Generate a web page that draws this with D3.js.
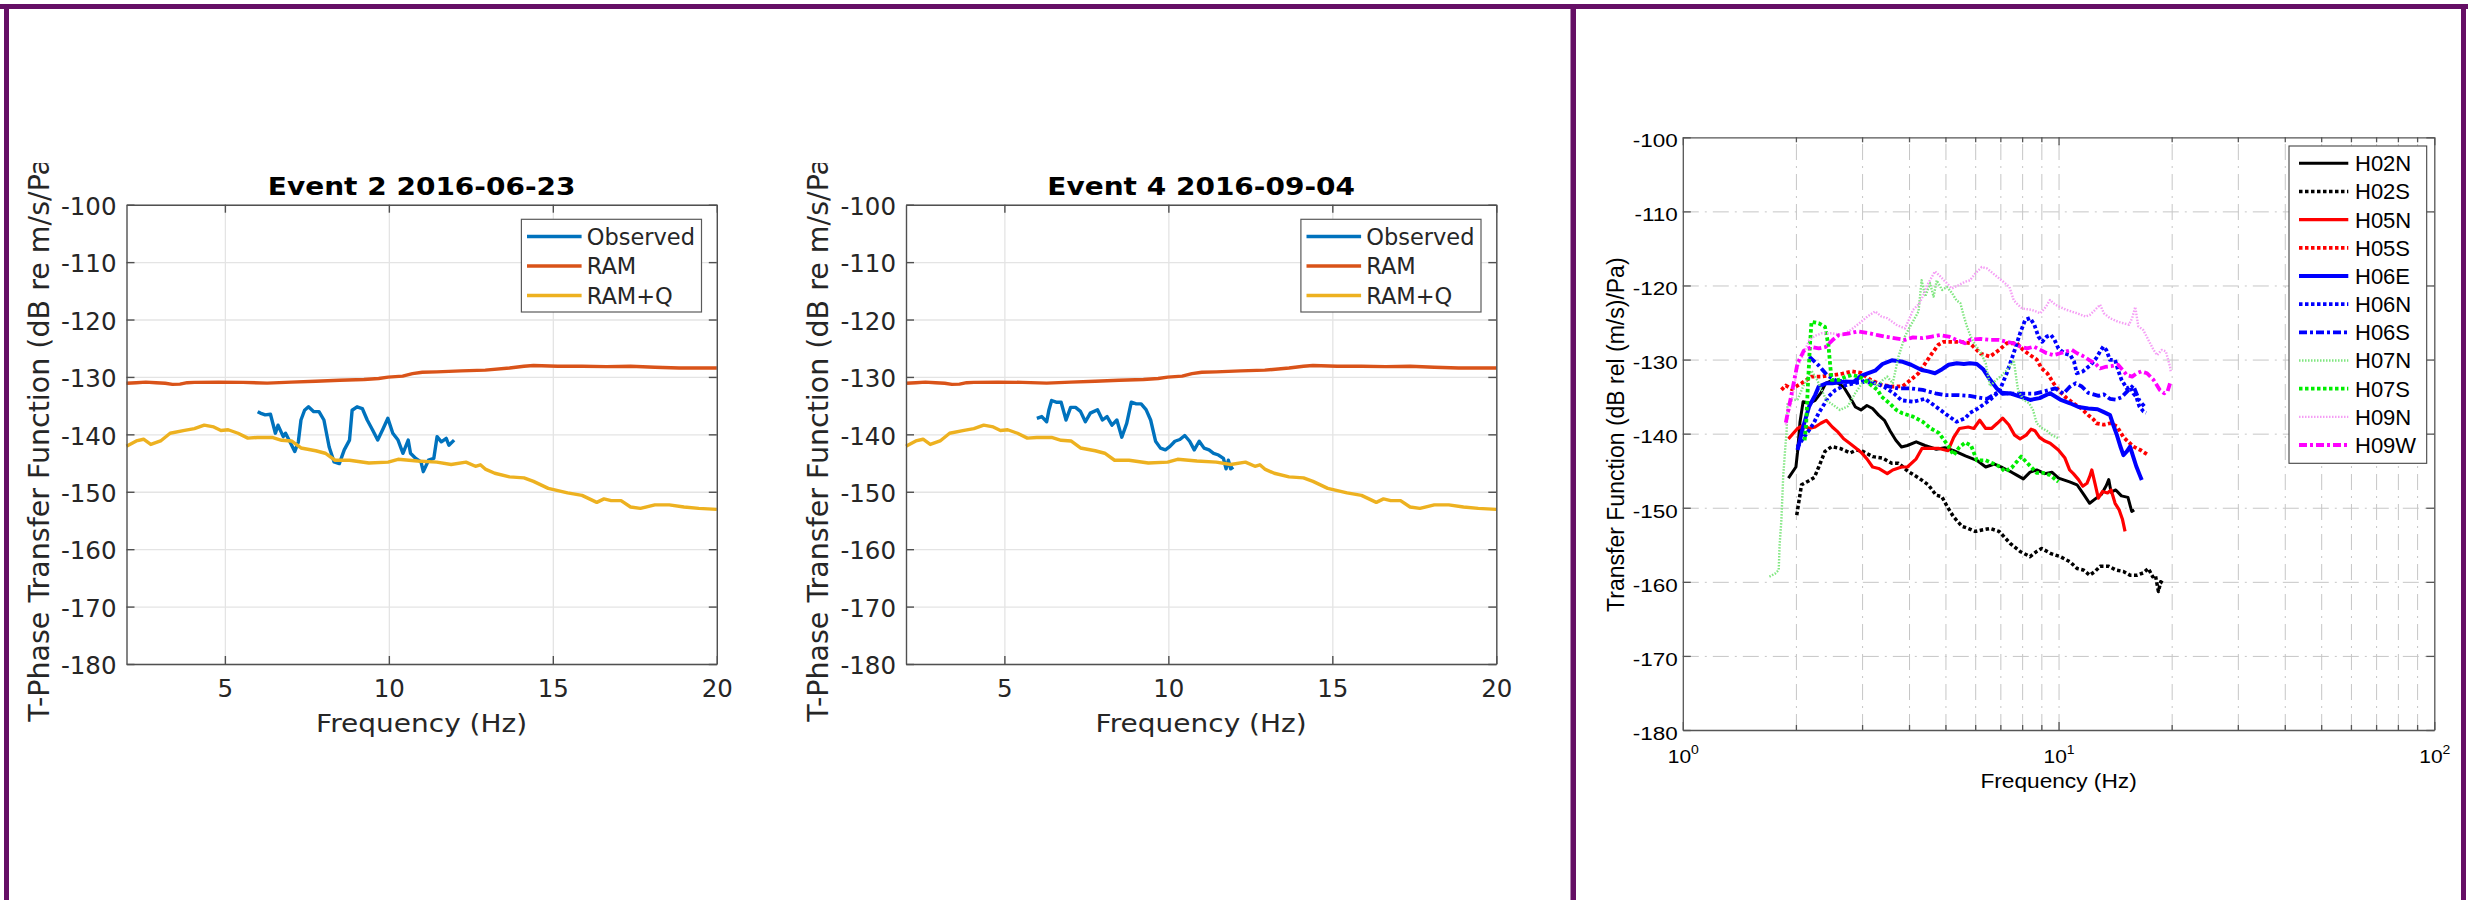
<!DOCTYPE html>
<html>
<head>
<meta charset="utf-8">
<script src="https://cdn.jsdelivr.net/npm/d3@7"></script>
<style>
  html, body { margin: 0; padding: 0; background: #ffffff; }
  svg { display: block; }
</style>
</head>
<body>
<svg id="fig" width="2468" height="900"></svg>
<script>
// ---------------- Event panels (linear frequency axis) ----------------
const eventTitles = ["Event 2 2016-06-23", "Event 4 2016-09-04"];
const eventSeries = ["Observed", "RAM", "RAM+Q"];
const freqTicks = [5, 10, 15, 20];
const dbTicks = [-100, -110, -120, -130, -140, -150, -160, -170, -180];

// RAM model (same for both events)
const ramFreq = [2.0, 2.3, 2.59, 2.9, 3.18, 3.4, 3.63, 3.85, 4.07, 4.81, 5.55, 6.29, 7.03, 7.77, 8.50,
  9.24, 9.69, 9.98, 10.42, 10.72, 11.02, 11.46, 12.20, 12.94, 13.68, 14.12, 14.41, 15.15, 15.89, 16.63,
  17.37, 18.11, 18.85, 19.59, 20.0];
const ramDb = [-131.1, -131.0, -130.9, -131.0, -131.1, -131.3, -131.25, -131.0, -130.95, -130.9,
  -130.95, -131.07, -130.9, -130.76, -130.57, -130.45, -130.27, -130.03, -129.85, -129.43,
  -129.18, -129.12, -128.94, -128.82, -128.45, -128.13, -128.01, -128.13, -128.13, -128.2,
  -128.13, -128.32, -128.45, -128.45, -128.45];

// RAM + attenuation (Q) model
const ramqFreq = [2.0, 2.30, 2.52, 2.74, 3.04, 3.33, 3.77, 4.07, 4.37, 4.66, 4.88, 5.10, 5.40, 5.70, 5.99,
  6.44, 6.73, 7.03, 7.32, 7.77, 8.06, 8.36, 8.80, 9.39, 9.98, 10.28, 10.87, 11.46, 11.90, 12.35,
  12.64, 12.79, 12.94, 13.23, 13.68, 14.12, 14.41, 14.86, 15.45, 15.89, 16.34, 16.56, 16.78, 17.08, 17.37,
  17.67, 18.11, 18.55, 19.00, 19.45, 20.0];
const ramqDb = [-142.07, -141.15, -140.85, -141.76, -141.15, -139.81, -139.32, -139.01, -138.40, -138.71,
  -139.32, -139.2, -139.81, -140.66, -140.54, -140.54, -141.03, -141.15, -142.37, -142.86,
  -143.29, -144.51, -144.51, -145.0, -144.83, -144.34, -144.64, -144.83, -145.25, -144.83,
  -145.56, -145.3, -146.05, -146.78, -147.4, -147.58, -148.19, -149.41, -150.2, -150.63,
  -151.85, -151.24, -151.55, -151.55, -152.65, -152.9, -152.29, -152.29, -152.65, -152.9, -153.07];

// Observed, event 2
const obsE2Freq = [6.00, 6.08, 6.23, 6.39, 6.54, 6.62, 6.78, 6.85, 7.01, 7.13, 7.24, 7.32, 7.43, 7.55, 7.71,
  7.87, 8.02, 8.18, 8.33, 8.49, 8.64, 8.80, 8.88, 9.03, 9.19, 9.34, 9.50, 9.66, 9.81, 9.97,
  10.12, 10.28, 10.43, 10.59, 10.66, 10.82, 10.98, 11.05, 11.21, 11.37, 11.47, 11.60, 11.75, 11.83, 11.99];
const obsE2Db = [-136.05, -136.3, -136.6, -136.5, -139.8, -138.4, -140.4, -139.8, -141.6, -143.0,
  -141.3, -137.5, -135.8, -135.2, -136.05, -136.05, -137.5, -142.2, -144.8, -145.1,
  -142.7, -141.0, -135.8, -135.2, -135.5, -137.5, -139.2, -141.0, -139.2, -137.2,
  -139.8, -141.0, -143.3, -141.0, -143.3, -144.2, -144.8, -146.5, -144.5, -144.2,
  -140.4, -141.3, -140.7, -141.9, -141.0];

// Observed, event 4
const obsE4Freq = [5.99, 6.14, 6.29, 6.36, 6.44, 6.58, 6.73, 6.88, 7.02, 7.17, 7.32, 7.47, 7.62, 7.84, 7.99,
  8.13, 8.28, 8.43, 8.58, 8.73, 8.87, 9.02, 9.17, 9.32, 9.46, 9.61, 9.76, 9.91, 10.05, 10.20,
  10.35, 10.50, 10.65, 10.79, 10.94, 11.09, 11.24, 11.38, 11.53, 11.68, 11.76, 11.83, 11.90, 11.98];
const obsE4Db = [-137.2, -136.9, -137.8, -135.7, -134.1, -134.4, -134.4, -137.5, -135.3, -135.3,
  -136.0, -137.8, -136.3, -135.7, -137.5, -136.9, -138.4, -137.5, -140.5, -138.1,
  -134.4, -134.7, -134.7, -135.7, -137.5, -141.2, -142.4, -142.7, -142.1, -141.2,
  -140.9, -140.2, -141.2, -142.7, -141.2, -142.4, -142.7, -143.3, -143.6, -144.2,
  -146.0, -144.5, -146.0, -145.7];

// ---------------- Station transfer functions (log frequency axis) ----------------
const stationNames = ["H02N", "H02S", "H05N", "H05S", "H06E", "H06N", "H06S", "H07N", "H07S", "H09N", "H09W"];
const logExponents = [0, 1, 2];

const h02nFreq = [1.91, 2.0, 2.02, 2.05, 2.09, 2.17, 2.25, 2.33, 2.40, 2.50, 2.59, 2.68, 2.78, 2.88, 2.98,
  3.09, 3.20, 3.32, 3.44, 3.56, 3.69, 3.82, 3.96, 4.18, 4.41, 4.73, 4.98, 5.26, 5.65, 6.06,
  6.4, 6.75, 7.1, 7.5, 7.74, 8.06, 8.4, 8.75, 9.2, 9.6, 10.0, 10.7, 11.2, 11.7, 12.1,
  12.6, 13.0, 13.4, 13.6, 13.8, 14.2, 14.7, 15.3, 15.66, 15.9];
const h02nDb = [-146.0, -144.5, -142.5, -138.5, -135.7, -135.9, -135.5, -134.5, -133.2, -132.8,
  -133.2, -133.7, -135.0, -136.4, -136.8, -136.2, -136.6, -137.5, -138.2, -139.6,
  -140.9, -141.8, -141.6, -141.1, -141.6, -142.1, -141.9, -142.3, -143.0, -143.6,
  -144.5, -144.1, -144.6, -145.2, -145.6, -146.1, -145.2, -144.9, -145.4, -145.2,
  -146.0, -146.5, -146.9, -148.3, -149.4, -148.7, -148.2, -147.0, -146.2, -147.9,
  -147.6, -148.4, -148.6, -150.5, -150.3];

const h02sFreq = [2.01, 2.07, 2.16, 2.24, 2.30, 2.39, 2.49, 2.62, 2.79, 2.90, 3.02, 3.20, 3.40, 3.60, 3.75,
  3.98, 4.25, 4.50, 4.72, 4.89, 5.05, 5.25, 5.53, 5.75, 6.0, 6.25, 6.57, 6.95, 7.43, 7.9,
  8.40, 8.75, 9.02, 9.55, 10.1, 10.73, 11.2, 11.64, 12.1, 12.5, 12.9, 13.6, 14.2, 14.88, 15.5,
  16.2, 16.8, 17.34, 17.8, 18.1, 18.44, 18.7, 19.0];
const h02sDb = [-151.0, -146.9, -146.4, -145.9, -144.5, -142.4, -141.75, -142.0, -142.6, -142.2,
  -142.4, -143.1, -143.3, -144.0, -144.0, -145.1, -146.0, -146.9, -148.3, -148.5,
  -149.8, -151.2, -152.5, -152.8, -153.2, -153.0, -152.8, -153.2, -154.8, -155.9,
  -156.6, -155.9, -155.5, -156.2, -156.6, -157.3, -158.2, -158.4, -159.1, -158.6,
  -157.9, -157.9, -158.4, -158.6, -159.1, -159.1, -158.8, -158.2, -159.3, -159.1,
  -161.3, -160.0, -160.2];

const h05nFreq = [1.91, 2.02, 2.09, 2.17, 2.25, 2.33, 2.41, 2.50, 2.59, 2.68, 2.78, 2.88, 2.98, 3.09, 3.20,
  3.32, 3.50, 3.62, 3.82, 3.96, 4.18, 4.33, 4.57, 4.81, 5.08, 5.26, 5.45, 5.75, 5.95, 6.17,
  6.40, 6.63, 6.87, 7.1, 7.37, 7.64, 7.9, 8.2, 8.45, 8.65, 8.9, 9.2, 9.5, 9.99, 10.4,
  10.7, 10.95, 11.3, 11.6, 11.9, 12.1, 12.26, 12.5, 12.76, 13.1, 13.5, 13.8, 14.14, 14.5, 14.8, 15.03];
const h05nDb = [-140.7, -139.3, -138.9, -139.3, -139.1, -138.6, -138.2, -139.1, -139.8, -140.7,
  -141.3, -141.9, -142.5, -143.4, -144.5, -144.7, -145.4, -144.9, -144.5, -144.5,
  -143.4, -142.0, -142.0, -142.0, -142.3, -140.5, -139.3, -139.1, -139.3, -138.2,
  -139.3, -139.3, -138.6, -137.9, -138.8, -140.2, -140.7, -140.2, -139.4, -139.6,
  -140.5, -141.0, -141.3, -142.2, -143.3, -144.9, -145.4, -146.2, -147.1, -146.7,
  -145.8, -144.9, -146.7, -148.7, -147.8, -148.0, -147.6, -149.4, -150.3, -151.6, -153.2];

const h05sFreq = [1.83, 1.88, 1.95, 2.07, 2.2, 2.34, 2.5, 2.66, 2.82, 2.98, 3.15, 3.38, 3.60, 3.85, 4.05,
  4.24, 4.42, 4.6, 4.79, 4.95, 5.2, 5.5, 5.81, 6.2, 6.57, 6.95, 7.28, 7.74, 8.05, 8.4,
  8.75, 9.02, 9.35, 9.7, 9.99, 10.5, 10.95, 11.5, 12.0, 12.4, 12.6, 13.2, 13.7, 14.29, 14.9,
  15.82, 16.5, 17.34];
const h05sDb = [-134.1, -133.5, -134.0, -133.2, -132.3, -132.3, -132.1, -131.9, -131.6, -131.8,
  -132.7, -133.4, -133.65, -133.6, -132.7, -131.85, -130.5, -129.2, -128.0, -127.6,
  -127.6, -127.6, -127.8, -129.2, -129.6, -128.7, -127.8, -127.8, -128.7, -129.4,
  -130.0, -131.2, -131.9, -133.2, -134.1, -135.2, -135.9, -136.6, -137.5, -138.1,
  -138.6, -138.8, -138.6, -139.0, -140.5, -141.75, -142.2, -142.9];

const h06eFreq = [2.02, 2.09, 2.17, 2.25, 2.30, 2.41, 2.5, 2.68, 2.85, 2.98, 3.09, 3.25, 3.40, 3.60, 3.85,
  4.05, 4.32, 4.50, 4.69, 4.9, 5.1, 5.36, 5.6, 5.81, 6.06, 6.3, 6.55, 6.85, 7.1, 7.43,
  7.9, 8.4, 8.9, 9.49, 10.1, 10.73, 11.3, 12.0, 12.7, 13.2, 13.71, 14.0, 14.3, 14.6, 14.88,
  15.2, 15.50, 15.8, 16.1, 16.45, 16.65];
const h06eDb = [-142.2, -139.1, -136.3, -134.8, -133.65, -133.2, -133.2, -133.0, -133.0, -132.2,
  -131.9, -131.5, -130.6, -130.1, -130.3, -130.7, -131.4, -131.6, -131.85, -131.3,
  -130.7, -130.5, -130.6, -130.5, -130.6, -131.3, -132.6, -133.9, -134.6, -134.55,
  -135.0, -135.45, -135.2, -134.55, -135.4, -135.9, -136.4, -136.6, -136.7, -137.1,
  -137.5, -138.9, -140.2, -141.7, -142.9, -142.4, -141.75, -143.1, -144.4, -145.6, -146.25];

const h06nFreq = [2.02, 2.10, 2.17, 2.23, 2.30, 2.38, 2.44, 2.55, 2.70, 2.87, 3.09, 3.30, 3.44, 3.65, 3.82,
  4.11, 4.41, 4.73, 5.15, 5.35, 5.65, 5.81, 6.06, 6.57, 6.95, 7.28, 7.6, 7.90, 8.15, 8.40,
  8.62, 8.84, 9.05, 9.30, 9.55, 9.75, 9.99, 10.4, 10.75, 11.0, 11.18, 11.6, 12.2, 12.6, 12.9,
  13.16, 13.4, 13.7, 14.14, 14.4, 14.7, 15.19, 15.5, 15.8, 16.1, 16.4, 16.82, 17.1];
const h06nDb = [-141.8, -140.5, -139.5, -138.6, -137.2, -136.0, -135.0, -134.1, -133.5, -133.2,
  -132.8, -133.3, -133.7, -134.6, -135.5, -135.7, -135.3, -136.4, -137.8, -138.4,
  -137.9, -137.2, -136.7, -135.45, -134.3, -131.85, -129.1, -126.45, -124.65, -124.4,
  -125.3, -126.9, -127.6, -126.9, -126.7, -127.3, -128.5, -129.2, -129.4, -130.3,
  -131.85, -131.6, -130.7, -129.8, -128.9, -128.25, -128.7, -130.05, -130.05, -131.4,
  -132.7, -133.9, -133.65, -134.55, -135.0, -136.3, -137.0, -137.2];

const h06sFreq = [2.17, 2.30, 2.42, 2.55, 2.75, 3.0, 3.25, 3.50, 3.75, 4.05, 4.35, 4.70, 5.0, 5.4, 5.8,
  6.1, 6.45, 6.9, 7.5, 8.06, 8.65, 9.3, 9.8, 10.3, 10.7, 11.1, 11.5, 12.0, 12.78, 13.2,
  13.7, 14.2, 14.7, 15.3, 15.8, 16.4, 16.9];
const h06sDb = [-129.6, -130.8, -132.1, -132.8, -133.0, -133.0, -133.2, -133.6, -133.9, -133.9,
  -134.1, -134.55, -134.8, -134.8, -134.9, -135.1, -135.3, -134.4, -134.6, -134.6,
  -134.6, -134.2, -133.9, -134.6, -133.7, -133.2, -133.6, -134.5, -134.9, -134.7,
  -135.3, -135.4, -135.1, -134.2, -133.5, -135.5, -136.3];

const h07nFreq = [1.70, 1.76, 1.80, 1.81, 1.83, 1.85, 1.87, 1.89, 1.90, 1.95, 2.02, 2.11, 2.20, 2.28, 2.41,
  2.54, 2.62, 2.75, 2.88, 3.0, 3.18, 3.3, 3.4, 3.5, 3.62, 3.75, 3.9, 4.0, 4.24, 4.32,
  4.42, 4.55, 4.65, 4.74, 4.9, 5.05, 5.2, 5.35, 5.48, 5.6, 5.7, 5.85, 6.0, 6.2, 6.4,
  6.57, 6.8, 7.0, 7.3, 7.6, 7.8, 8.05, 8.35, 8.55, 8.75, 9.0, 9.3, 9.6, 9.97];
const h07nDb = [-159.3, -158.9, -158.4, -155.0, -151.6, -145.8, -142.5, -139.5, -136.0, -135.5,
  -135.4, -133.2, -131.5, -132.8, -135.5, -136.3, -136.8, -136.3, -134.5, -133.2,
  -132.75, -133.6, -132.8, -132.3, -133.2, -129.6, -126.9, -125.8, -123.5, -119.3,
  -121.5, -119.7, -121.5, -119.3, -120.6, -120.2, -121.0, -122.0, -122.4, -124.2,
  -125.5, -127.0, -128.0, -129.0, -130.5, -133.6, -132.8, -132.3, -131.4, -130.1,
  -134.1, -135.4, -135.9, -136.8, -138.6, -139.2, -139.6, -140.2, -140.6];

const h07sFreq = [2.11, 2.13, 2.15, 2.18, 2.20, 2.30, 2.39, 2.44, 2.47, 2.49, 2.60, 2.72, 2.82, 2.95, 3.05,
  3.20, 3.30, 3.38, 3.55, 3.70, 3.84, 4.1, 4.35, 4.57, 4.8, 5.08, 5.26, 5.45, 5.65, 5.85,
  6.06, 6.4, 6.75, 7.0, 7.2, 7.5, 7.74, 7.95, 8.2, 8.45, 8.75, 9.1, 9.5, 9.99];
const h07sDb = [-140.9, -138.6, -134.0, -128.0, -124.9, -125.1, -125.6, -128.0, -131.0, -132.75,
  -132.75, -132.3, -132.1, -132.3, -132.75, -133.6, -134.1, -135.0, -135.9, -136.8,
  -137.25, -137.7, -138.4, -139.3, -139.9, -141.6, -142.9, -141.8, -141.2, -141.6,
  -143.6, -143.6, -144.1, -144.5, -145.1, -144.6, -143.8, -143.1, -143.8, -144.5,
  -145.3, -145.3, -145.6, -146.5];

const h09nFreq = [1.88, 1.95, 2.02, 2.09, 2.17, 2.25, 2.34, 2.49, 2.65, 2.8, 2.95, 3.1, 3.25, 3.38, 3.5,
  3.7, 3.9, 4.0, 4.1, 4.25, 4.35, 4.5, 4.69, 4.85, 5.0, 5.2, 5.4, 5.64, 5.81, 6.0,
  6.25, 6.45, 6.7, 7.13, 7.4, 7.6, 7.8, 8.0, 8.5, 8.95, 9.25, 9.49, 9.8, 10.5, 11.2,
  11.8, 12.1, 12.4, 12.9, 13.2, 13.7, 14.4, 15.4, 15.7, 16.0, 16.3, 16.8, 17.34, 17.9, 18.3,
  18.8, 19.3, 19.81, 19.9];
const h09nDb = [-138.8, -135.5, -131.0, -129.4, -127.35, -126.8, -126.45, -126.45, -126.7, -126.0,
  -125.1, -124.2, -123.5, -124.2, -124.4, -125.3, -125.8, -124.6, -123.3, -122.5,
  -121.5, -119.7, -118.1, -118.8, -119.5, -120.4, -120.0, -119.5, -119.3, -118.4,
  -117.5, -117.7, -118.4, -119.5, -120.2, -122.0, -122.6, -123.1, -123.3, -123.75,
  -122.9, -121.95, -122.6, -123.3, -123.75, -124.2, -124.0, -123.5, -122.6, -123.75,
  -124.4, -124.9, -125.3, -124.4, -122.9, -125.5, -126.0, -127.35, -128.7, -129.4,
  -128.7, -128.9, -131.0, -131.7];

const h09wFreq = [1.88, 1.95, 2.02, 2.10, 2.2, 2.3, 2.4, 2.5, 2.6, 2.75, 2.93, 3.1, 3.3, 3.45, 3.65,
  3.9, 4.1, 4.35, 4.6, 4.85, 5.1, 5.35, 5.64, 5.81, 6.2, 6.57, 6.95, 7.28, 7.6, 7.9,
  8.25, 8.6, 8.95, 9.3, 9.7, 10.1, 10.5, 10.85, 11.2, 11.7, 12.1, 12.5, 12.9, 13.3, 13.8,
  14.4, 14.8, 15.2, 15.7, 16.15, 16.6, 17.2, 17.9, 18.6, 19.1, 19.5, 19.8, 19.95];
const h09wDb = [-138.5, -134.5, -130.5, -128.8, -128.3, -128.5, -128.3, -127.4, -126.7, -126.5,
  -126.2, -126.4, -126.7, -126.9, -127.1, -127.35, -127.0, -127.1, -126.9, -126.7,
  -126.9, -127.35, -127.8, -127.35, -127.2, -127.35, -127.35, -127.6, -127.8, -128.25,
  -128.5, -128.25, -128.7, -129.15, -129.4, -129.15, -128.9, -128.7, -129.15, -129.6,
  -130.1, -130.5, -131.2, -131.0, -130.9, -130.7, -131.4, -132.1, -132.3, -131.85,
  -131.6, -131.85, -132.75, -134.1, -134.55, -134.3, -133.2, -133.0];

// ---------------- drawing ----------------
const W = 2468, H = 900;
const svg = d3.select("#fig");
const FONT_EVT = "'DejaVu Sans', sans-serif";
const FONT_STN = "'Liberation Sans', Arial, Helvetica, sans-serif";

// Vertically compress a text element about its own anchor point.
function vsquash(sel, k) {
  sel.each(function () {
    const t = d3.select(this);
    const x = +t.attr("x") || 0, y = +t.attr("y") || 0;
    t.attr("transform", `translate(${x},${y}) scale(1,${k}) translate(${-x},${-y})`);
  });
}

svg.append("rect").attr("width", W).attr("height", H).attr("fill", "#ffffff");

// ---- one event panel ----
function drawEvent(left, titleText, obsF, obsV) {
  const top = 204.7, bottom = 664, right = left + 590.3;
  const x = d3.scaleLinear().domain([2, 20]).range([left, right]);
  const y = d3.scaleLinear().domain([-180, -100]).range([bottom, top]);
  const axisColor = "#505050", textColor = "#262626";
  const g = svg.append("g");

  // grid
  g.append("g").attr("transform", `translate(0,${bottom})`)
    .call(d3.axisBottom(x).tickValues(freqTicks).tickSize(-(bottom - top)).tickFormat(""))
    .call(a => a.select(".domain").remove())
    .call(a => a.selectAll("line").attr("stroke", "#e4e4e4").attr("stroke-width", 1.3));
  g.append("g").attr("transform", `translate(${left},0)`)
    .call(d3.axisLeft(y).tickValues(dbTicks).tickSize(-(right - left)).tickFormat(""))
    .call(a => a.select(".domain").remove())
    .call(a => a.selectAll("line").attr("stroke", "#e4e4e4").attr("stroke-width", 1.3));

  // curves
  const line = d3.line().x(d => x(d[0])).y(d => y(d[1]));
  const curves = [
    { pts: d3.zip(obsF, obsV), color: "#0072BD" },
    { pts: d3.zip(ramFreq, ramDb), color: "#D95319" },
    { pts: d3.zip(ramqFreq, ramqDb), color: "#EDB120" }
  ];
  g.append("g").selectAll("path").data(curves).join("path")
    .attr("d", c => line(c.pts)).attr("fill", "none")
    .attr("stroke", c => c.color).attr("stroke-width", 3.4)
    .attr("stroke-linejoin", "round");

  // box with inward ticks
  const styleAxis = a => {
    a.selectAll("line, path").attr("stroke", axisColor).attr("stroke-width", 1.4);
    a.selectAll("text").attr("fill", textColor).attr("font-family", FONT_EVT).attr("font-size", 24.5);
  };
  g.append("g").attr("transform", `translate(0,${bottom})`)
    .call(d3.axisBottom(x).tickValues(freqTicks).tickSize(-8).tickSizeOuter(0).tickPadding(16).tickFormat(d => String(d)))
    .call(styleAxis);
  g.append("g").attr("transform", `translate(0,${top})`)
    .call(d3.axisTop(x).tickValues(freqTicks).tickSize(-8).tickSizeOuter(0).tickFormat(""))
    .call(styleAxis);
  g.append("g").attr("transform", `translate(${left},0)`)
    .call(d3.axisLeft(y).tickValues(dbTicks).tickSize(-8).tickSizeOuter(0).tickPadding(10).tickFormat(d => String(d)))
    .call(styleAxis)
    .call(a => a.selectAll("text").attr("dy", "0.4em"));
  g.append("g").attr("transform", `translate(${right},0)`)
    .call(d3.axisRight(y).tickValues(dbTicks).tickSize(-8).tickSizeOuter(0).tickFormat(""))
    .call(styleAxis);

  // title
  g.append("text").attr("x", (left + right) / 2).attr("y", 195)
    .attr("text-anchor", "middle").attr("font-family", FONT_EVT).attr("font-weight", "bold")
    .attr("font-size", 28).attr("fill", "#000").text(titleText)
    .call(vsquash, 0.9);

  // x label
  g.append("text").attr("x", (left + right) / 2).attr("y", 731.7)
    .attr("text-anchor", "middle").attr("font-family", FONT_EVT)
    .attr("font-size", 28).attr("fill", textColor).text("Frequency (Hz)")
    .call(vsquash, 0.9);

  // y label (top end cut off by the panel region)
  const clipId = "ylab-clip-" + Math.round(left);
  svg.append("clipPath").attr("id", clipId).append("rect")
    .attr("x", left - 126).attr("y", 163).attr("width", 120).attr("height", 700);
  g.append("g").attr("clip-path", `url(#${clipId})`)
    .append("text")
    .attr("transform", `translate(${left - 78},${(top + bottom) / 2}) rotate(-90)`)
    .attr("text-anchor", "middle").attr("font-family", FONT_EVT)
    .attr("font-size", 28.5).attr("fill", textColor)
    .text("T-Phase Transfer Function (dB re m/s/Pa)");

  // legend
  const lx = right - 195.4, ly = 219.3;
  g.append("rect").attr("x", lx).attr("y", ly).attr("width", 180.1).attr("height", 92.7)
    .attr("fill", "#fff").attr("stroke", "#5a5a5a").attr("stroke-width", 1.2);
  const rows = g.append("g").selectAll("g").data(eventSeries).join("g")
    .attr("transform", (d, i) => `translate(${lx},${ly + 17.2 + i * 29.5})`);
  rows.append("line").attr("x1", 5.6).attr("x2", 60.2).attr("y1", 0).attr("y2", 0)
    .attr("stroke", (d, i) => curves[i].color).attr("stroke-width", 3.6);
  rows.append("text").attr("x", 65.3).attr("y", 8.2)
    .attr("font-family", FONT_EVT).attr("font-size", 22.5).attr("fill", textColor)
    .text(d => d);
}

drawEvent(126.5, eventTitles[0], obsE2Freq, obsE2Db);
drawEvent(906, eventTitles[1], obsE4Freq, obsE4Db);

// ---- station panel ----
(function drawStations() {
  const left = 1682.8, right = 2434.3, top = 137.3, bottom = 730;
  const x = d3.scaleLog().domain([1, 100]).range([left, right]);
  const y = d3.scaleLinear().domain([-180, -100]).range([bottom, top]);
  const g = svg.append("g");
  const isMajor = d => Math.abs(Math.log10(d) - Math.round(Math.log10(d))) < 1e-9;
  const allTicks = x.ticks();
  const gridX = allTicks.filter(d => d > 1 && d < 100);
  const gridY = dbTicks.filter(d => d > -180 && d < -100);

  // grid
  const gridStyle = a => a.selectAll("line").attr("stroke", "#c6c6c6").attr("stroke-width", 1)
    .attr("stroke-dasharray", "16,6,2,6");
  g.append("g").attr("transform", `translate(0,${bottom})`)
    .call(d3.axisBottom(x).tickValues(gridX).tickSize(-(bottom - top)).tickFormat(""))
    .call(a => a.select(".domain").remove())
    .call(gridStyle);
  g.append("g").attr("transform", `translate(${left},0)`)
    .call(d3.axisLeft(y).tickValues(gridY).tickSize(-(right - left)).tickFormat(""))
    .call(a => a.select(".domain").remove())
    .call(gridStyle);

  // series styles
  const styles = {
    H02N: { color: "#000000", dash: null, w: 3 },
    H02S: { color: "#000000", dash: "3.5,2.5", w: 3.5 },
    H05N: { color: "#ff0000", dash: null, w: 3.2 },
    H05S: { color: "#ff0000", dash: "3.5,2.5", w: 3.8 },
    H06E: { color: "#0000ff", dash: null, w: 4 },
    H06N: { color: "#0000ff", dash: "3.5,2.5", w: 3.8 },
    H06S: { color: "#0000ff", dash: "8,3,3,3", w: 3.8 },
    H07N: { color: "#80e680", dash: "1.5,1.5", w: 2.4 },
    H07S: { color: "#00ee00", dash: "3.5,2.5", w: 3.8 },
    H09N: { color: "#f59ef5", dash: "1.5,1.5", w: 2.4 },
    H09W: { color: "#ff00ff", dash: "8,3,3,3", w: 3.8 }
  };
  const seriesData = {
    H02N: d3.zip(h02nFreq, h02nDb), H02S: d3.zip(h02sFreq, h02sDb),
    H05N: d3.zip(h05nFreq, h05nDb), H05S: d3.zip(h05sFreq, h05sDb),
    H06E: d3.zip(h06eFreq, h06eDb), H06N: d3.zip(h06nFreq, h06nDb), H06S: d3.zip(h06sFreq, h06sDb),
    H07N: d3.zip(h07nFreq, h07nDb), H07S: d3.zip(h07sFreq, h07sDb),
    H09N: d3.zip(h09nFreq, h09nDb), H09W: d3.zip(h09wFreq, h09wDb)
  };
  const line = d3.line().x(d => x(d[0])).y(d => y(d[1]));
  g.append("g").selectAll("path").data(stationNames).join("path")
    .attr("d", n => line(seriesData[n])).attr("fill", "none")
    .attr("stroke", n => styles[n].color).attr("stroke-width", n => styles[n].w)
    .attr("stroke-dasharray", n => styles[n].dash).attr("stroke-linejoin", "round");

  // axes box with inward ticks
  const axisColor = "#555555";
  const styleAxis = a => {
    a.selectAll("line, path").attr("stroke", axisColor).attr("stroke-width", 1.3);
    a.selectAll("text").attr("fill", "#000").attr("font-family", FONT_STN);
  };
  g.append("g").attr("transform", `translate(0,${bottom})`)
    .call(d3.axisBottom(x).tickValues(allTicks).tickSize(-8).tickSizeOuter(0).tickFormat(d => isMajor(d) ? "10" : ""))
    .call(styleAxis)
    .call(a => a.selectAll(".tick line").attr("y2", d => isMajor(d) ? -8 : -5))
    .call(a => a.selectAll(".tick text")
      .attr("font-size", 21).attr("y", 33.3).attr("dy", 0)
      .each(function (d) {
        if (isMajor(d)) {
          d3.select(this).append("tspan").attr("dy", -10).attr("font-size", 14)
            .text(logExponents[Math.round(Math.log10(d))]);
        }
      })
      .call(vsquash, 0.9));
  g.append("g").attr("transform", `translate(0,${top})`)
    .call(d3.axisTop(x).tickValues(allTicks).tickSize(-8).tickSizeOuter(0).tickFormat(""))
    .call(styleAxis)
    .call(a => a.selectAll(".tick line").attr("y2", d => isMajor(d) ? 8 : 5));
  g.append("g").attr("transform", `translate(${left},0)`)
    .call(d3.axisLeft(y).tickValues(dbTicks).tickSize(-8).tickSizeOuter(0).tickPadding(5).tickFormat(d => String(d)))
    .call(styleAxis)
    .call(a => a.selectAll(".tick text").attr("font-size", 22.5).attr("dy", "0.5em").call(vsquash, 0.83));
  g.append("g").attr("transform", `translate(${right},0)`)
    .call(d3.axisRight(y).tickValues(dbTicks).tickSize(-8).tickSizeOuter(0).tickFormat(""))
    .call(styleAxis);

  // labels
  g.append("text").attr("x", (left + right) / 2).attr("y", 788.3)
    .attr("text-anchor", "middle").attr("font-family", FONT_STN).attr("font-size", 22.7)
    .attr("fill", "#000").text("Frequency (Hz)").call(vsquash, 0.92);
  g.append("text")
    .attr("transform", `translate(1623.5,${(top + bottom) / 2 + 1}) rotate(-90)`)
    .attr("text-anchor", "middle").attr("font-family", FONT_STN).attr("font-size", 23)
    .attr("fill", "#000").text("Transfer Function (dB rel (m/s)/Pa)");

  // legend
  const lx = 2289, ly = 146;
  g.append("rect").attr("x", lx).attr("y", ly).attr("width", 137.7).attr("height", 317.3)
    .attr("fill", "#fff").attr("stroke", "#444").attr("stroke-width", 1.1);
  const rows = g.append("g").selectAll("g").data(stationNames).join("g")
    .attr("transform", (d, i) => `translate(${lx},${ly + 17.3 + i * 28.17})`);
  rows.append("line").attr("x1", 10).attr("x2", 59.3).attr("y1", 0).attr("y2", 0)
    .attr("stroke", n => styles[n].color).attr("stroke-width", n => styles[n].w)
    .attr("stroke-dasharray", n => styles[n].dash);
  rows.append("text").attr("x", 66).attr("y", 7.9)
    .attr("font-family", FONT_STN).attr("font-size", 22).attr("fill", "#000").text(n => n);
})();

// ---- purple frame around the figure ----
const frameColor = "#650f65";
const frameBars = svg.append("g").attr("fill", frameColor);
frameBars.append("rect").attr("x", 0).attr("y", 4).attr("width", W).attr("height", 5);
frameBars.append("rect").attr("x", 4).attr("y", 4).attr("width", 5).attr("height", H - 4);
frameBars.append("rect").attr("x", 1570.5).attr("y", 4).attr("width", 5.5).attr("height", H - 4);
frameBars.append("rect").attr("x", 2461).attr("y", 4).attr("width", 5).attr("height", H - 4);
</script>
</body>
</html>
